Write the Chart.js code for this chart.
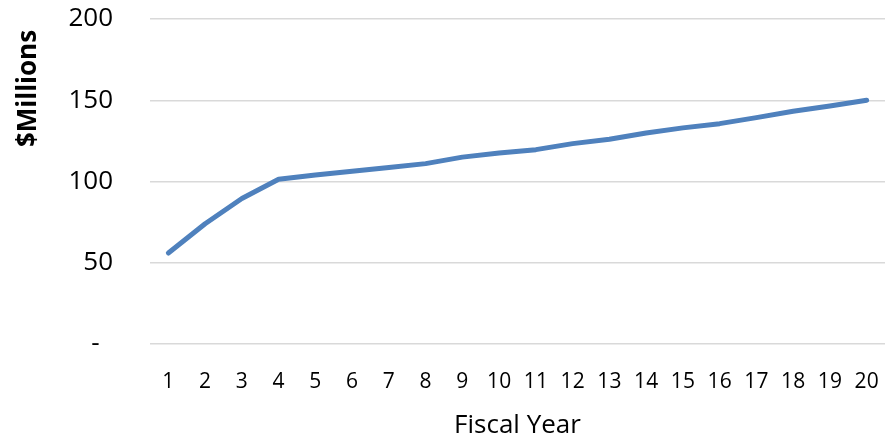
<!DOCTYPE html>
<html>
<head>
<meta charset="utf-8">
<script src="https://cdn.jsdelivr.net/npm/chart.js@4/dist/chart.umd.min.js"></script>
<style>
  html, body { margin: 0; padding: 0; background: #ffffff; }
  #wrap { width: 892px; height: 437px; }
</style>
</head>
<body>
<div id="wrap"><canvas id="chart" width="892" height="437"></canvas></div>
<script>
// Fiscal years 1..20
const fiscalYears = ['1','2','3','4','5','6','7','8','9','10','11','12','13','14','15','16','17','18','19','20'];
// Cumulative amount, $ millions
const amounts = [56, 74, 89.5, 101.4, 104, 106.3, 108.6, 111, 115, 117.5, 119.6, 123.3, 126, 129.9, 133, 135.6, 139.3, 143.2, 146.5, 150];
// Value axis ticks
const yTicks = [0, 50, 100, 150, 200];
const yTitle = '$Millions';
const xTitle = 'Fiscal Year';

const FONT = "'Open Sans', 'Noto Sans', sans-serif";

// Rotated value-axis title, placed near the top of the axis
const yTitlePlugin = {
  id: 'yTitle',
  afterDraw(chart) {
    const ctx = chart.ctx;
    ctx.save();
    ctx.translate(29, 88.5);
    ctx.rotate(-Math.PI / 2);
    ctx.font = "bold 26px " + FONT;
    ctx.fillStyle = '#000000';
    ctx.textAlign = 'center';
    ctx.textBaseline = 'middle';
    ctx.fillText(yTitle, 0, 0);
    ctx.restore();
  }
};

new Chart(document.getElementById('chart'), {
  type: 'line',
  data: {
    labels: fiscalYears,
    datasets: [{
      data: amounts,
      borderColor: '#4f81bd',
      borderWidth: 5,
      borderCapStyle: 'round',
      borderJoinStyle: 'round',
      tension: 0,
      pointRadius: 0,
      fill: false
    }]
  },
  options: {
    responsive: false,
    animation: false,
    layout: { padding: { top: 19, right: 7, left: 0, bottom: 0 } },
    plugins: {
      legend: { display: false },
      tooltip: { enabled: false }
    },
    scales: {
      x: {
        offset: true,
        grid: { display: false, drawTicks: false },
        border: { display: false },
        ticks: {
          color: '#000000',
          font: { family: FONT, size: 21 },
          padding: 25,
          maxRotation: 0,
          autoSkip: false
        },
        title: {
          display: true,
          text: xTitle,
          color: '#000000',
          font: { family: FONT, size: 26, lineHeight: 0.8 },
          padding: { top: 0, bottom: 1 }
        },
        afterFit(scale) {
          scale.height = 93;
          scale.paddingLeft = 0;
          scale.paddingRight = 0;
        }
      },
      y: {
        min: 0,
        max: 200,
        afterBuildTicks(scale) { scale.ticks = yTicks.map(v => ({ value: v })); },
        grid: { color: '#d9d9d9', lineWidth: 1.5, drawTicks: false },
        border: { display: false },
        ticks: {
          color: '#000000',
          font: { family: FONT, size: 26 },
          padding: 37,
          callback: (v) => (v === 0 ? '-  ' : String(v))
        },
        afterFit(scale) {
          scale.width = 150;
          scale.paddingTop = 0;
          scale.paddingBottom = 0;
        }
      }
    }
  },
  plugins: [yTitlePlugin]
});
</script>
</body>
</html>
